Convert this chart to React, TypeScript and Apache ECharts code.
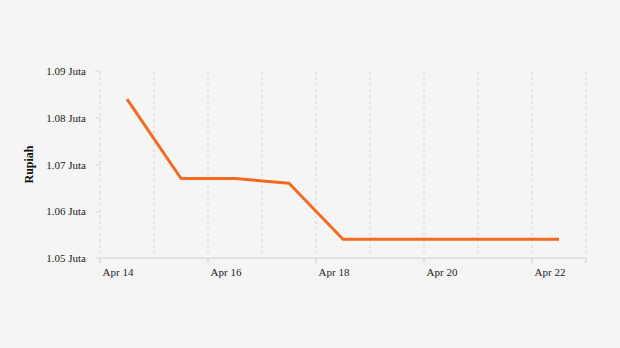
import React, { useEffect, useRef } from "react";
import * as echarts from "echarts";

const categories = ["Apr 14", "Apr 15", "Apr 16", "Apr 17", "Apr 18", "Apr 19", "Apr 20", "Apr 21", "Apr 22"];
const prices = [1084000, 1067000, 1067000, 1066000, 1054000, 1054000, 1054000, 1054000, 1054000];
const yTicks = { min: 1050000, max: 1090000, interval: 10000 };

export default function App() {
  const ref = useRef<HTMLDivElement>(null);
  useEffect(() => {
    const chart = echarts.init(ref.current!, null, { renderer: "svg" });
    chart.setOption({
      animation: false,
      backgroundColor: "#f5f5f5",
      textStyle: { fontFamily: "Liberation Serif" },
      grid: { left: 100, right: 34, top: 71, bottom: 90 },
      xAxis: {
        type: "category",
        data: categories,
        boundaryGap: true,
        axisLine: { lineStyle: { color: "#e2e2e2", width: 2 } },
        axisTick: { show: true, interval: 1, length: 5, lineStyle: { color: "#dddddd", width: 2 } },
        axisLabel: {
          interval: 1,
          color: "#222",
          fontSize: 11,
          fontFamily: "Liberation Serif",
          margin: 8,
          padding: [0, 18, 0, 0],
        },
        splitLine: { show: true, interval: 0, lineStyle: { color: "#e0e0e0", type: [3, 3], width: 1.5 } },
      },
      yAxis: {
        type: "value",
        min: yTicks.min,
        max: yTicks.max,
        interval: yTicks.interval,
        name: "Rupiah",
        nameLocation: "middle",
        nameGap: 64,
        nameTextStyle: { fontWeight: "bold", fontSize: 12, color: "#111", fontFamily: "Liberation Serif" },
        axisLine: { show: false },
        axisTick: { show: true, length: 5, lineStyle: { color: "#e0e0e0", width: 1.5 } },
        axisLabel: {
          color: "#222",
          fontSize: 11,
          fontFamily: "Liberation Serif",
          margin: 14,
          formatter: (v: number) => (v / 1e6).toFixed(2) + " Juta",
        },
        splitLine: { show: false },
      },
      series: [
        {
          type: "line",
          data: prices,
          showSymbol: false,
          symbol: "none",
          lineStyle: { color: "#f26b21", width: 3 },
          itemStyle: { color: "#f26b21" },
        },
      ],
    });
    return () => chart.dispose();
  }, []);
  return <div ref={ref} style={{ width: 620, height: 348, position: "absolute", left: 0, top: 0 }} />;
}
